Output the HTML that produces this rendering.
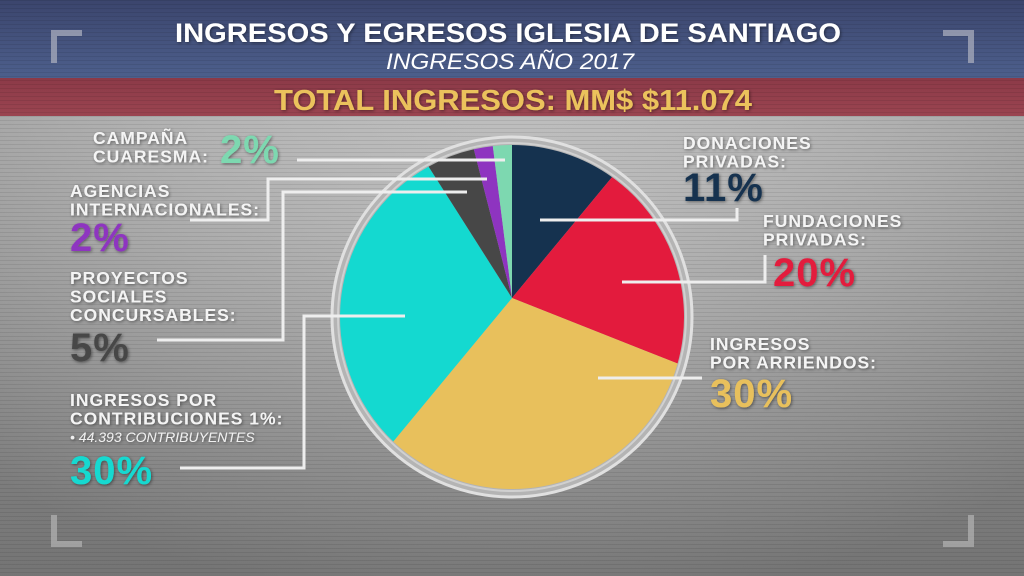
<!DOCTYPE html>
<html><head><meta charset="utf-8"><style>
html,body{margin:0;padding:0;width:1024px;height:576px;overflow:hidden;background:#aaa}
svg{display:block}
text{font-family:"Liberation Sans",sans-serif;font-weight:bold}
</style></head><body>
<svg id="chart" width="1024" height="576" viewBox="0 0 1024 576" xmlns="http://www.w3.org/2000/svg">
<defs>
<linearGradient id="bg" x1="0" y1="0" x2="0" y2="1">
<stop offset="0" stop-color="#c6c6c6"/><stop offset="0.5" stop-color="#acacac"/><stop offset="1" stop-color="#8e8e8e"/>
</linearGradient>
<radialGradient id="vig" cx="0.5" cy="0.35" r="0.7">
<stop offset="0" stop-color="#fff" stop-opacity="0.1"/><stop offset="1" stop-color="#000" stop-opacity="0.18"/>
</radialGradient>
<linearGradient id="blue" x1="0" y1="0" x2="0" y2="1"><stop offset="0" stop-color="#3b456d"/><stop offset="1" stop-color="#4d5f8c"/></linearGradient>
<linearGradient id="red" x1="0" y1="0" x2="0" y2="1"><stop offset="0" stop-color="#8c3a48"/><stop offset="1" stop-color="#9a4450"/></linearGradient>
<pattern id="scan" width="4" height="4" patternUnits="userSpaceOnUse"><rect width="4" height="1" fill="#000" opacity="0.08"/></pattern>
<filter id="sh"><feDropShadow dx="1" dy="1" stdDeviation="1.5" flood-color="#000" flood-opacity="0.45"/></filter>
</defs>
<rect width="1024" height="576" fill="url(#bg)"/>
<rect width="1024" height="576" fill="url(#vig)"/>
<rect width="1024" height="78" fill="url(#blue)"/>
<rect y="78" width="1024" height="38" fill="url(#red)"/>
<rect width="1024" height="576" fill="url(#scan)"/>
<g fill="#a9adbd" opacity="0.75">
<rect x="51" y="30" width="31" height="6"/><rect x="51" y="30" width="6" height="33"/>
<rect x="943" y="30" width="31" height="6"/><rect x="968" y="30" width="6" height="33"/>
<rect x="51" y="515" width="6" height="32" fill="#b0b0b0"/><rect x="51" y="541" width="31" height="6" fill="#b0b0b0"/>
<rect x="968" y="515" width="6" height="32" fill="#b0b0b0"/><rect x="943" y="541" width="31" height="6" fill="#b0b0b0"/>
</g>
<text x="508" y="42" text-anchor="middle" font-size="27" fill="#fff" textLength="666" lengthAdjust="spacingAndGlyphs" filter="url(#sh)">INGRESOS Y EGRESOS IGLESIA DE SANTIAGO</text>
<text x="510" y="69" text-anchor="middle" font-size="22" font-style="italic" fill="#fff" style="font-weight:normal" textLength="248" lengthAdjust="spacingAndGlyphs">INGRESOS AÑO 2017</text>
<text x="513" y="110" text-anchor="middle" font-size="29" fill="#ebc25c" textLength="478" lengthAdjust="spacingAndGlyphs" filter="url(#sh)">TOTAL INGRESOS: MM$ $11.074</text>

<circle cx="512" cy="317" r="180" fill="#b4b4b4" stroke="#e0e0e0" stroke-width="3"/>
<circle cx="512" cy="317" r="174" fill="none" stroke="#d0d0d0" stroke-width="2"/>
<g id="pie"></g>
<g id="leaders" stroke="#eeeeee" stroke-width="3" fill="none">
<polyline points="540,220 737,220 737,208"/>
<polyline points="622,282 765,282 765,255"/>
<polyline points="598,378 702,378"/>
<polyline points="505,160 297,160"/>
<polyline points="487,179 268,179 268,220 190,220"/>
<polyline points="467,192 283,192 283,340 157,340"/>
<polyline points="405,316 304,316 304,468 180,468"/>
</g>
<g id="labels" filter="url(#sh)"></g>
</svg>
<script>
var categories=["DONACIONES PRIVADAS","FUNDACIONES PRIVADAS","INGRESOS POR ARRIENDOS","INGRESOS POR CONTRIBUCIONES 1%","PROYECTOS SOCIALES CONCURSABLES","AGENCIAS INTERNACIONALES","CAMPAÑA CUARESMA"];
var values=[11,20,30,30,5,2,2];
var pctLabels=["11%","20%","30%","30%","5%","2%","2%"];
var colors=["#15324f","#e31b3d","#e8c05c","#14d9d0","#474747","#8e34c0","#7dd8b0"];
var NS="http://www.w3.org/2000/svg";
var ax=512,ay=298,cx=512,cy=317,R=172;
function edge(th){var dx=Math.sin(th),dy=-Math.cos(th);var ox=ax-cx,oy=ay-cy;var b=ox*dx+oy*dy,c=ox*ox+oy*oy-R*R;var t=-b+Math.sqrt(b*b-c);return [ax+t*dx,ay+t*dy];}
function cang(p){return Math.atan2(p[0]-cx,-(p[1]-cy));}
var total=values.reduce(function(a,b){return a+b},0);
var acc=0,pie=document.getElementById('pie');
values.forEach(function(v,i){
 var a0=acc/total*2*Math.PI;acc+=v;var a1=acc/total*2*Math.PI;
 var p0=edge(a0),p1=edge(a1);
 var d=cang(p1)-cang(p0);while(d<0)d+=2*Math.PI;if(i===values.length-1&&d<1e-6)d=2*Math.PI;
 var large=d>Math.PI?1:0;
 var path=document.createElementNS(NS,'path');
 path.setAttribute('d','M'+ax+','+ay+'L'+p0[0].toFixed(2)+','+p0[1].toFixed(2)+'A'+R+','+R+' 0 '+large+' 1 '+p1[0].toFixed(2)+','+p1[1].toFixed(2)+'Z');
 path.setAttribute('fill',colors[i]);
 
 
 pie.appendChild(path);
});
var labelLines=[["DONACIONES","PRIVADAS:"],["FUNDACIONES","PRIVADAS:"],["INGRESOS","POR ARRIENDOS:"],["INGRESOS POR","CONTRIBUCIONES 1%:"],["PROYECTOS","SOCIALES","CONCURSABLES:"],["AGENCIAS","INTERNACIONALES:"],["CAMPAÑA","CUARESMA:"]];
var lp=[[683,149],[763,227],[710,350],[70,406],[70,284],[70,197],[93,144]];
var pp=[[683,201],[773,286],[710,407],[70,484],[70,361],[70,251],[220,163]];
var g=document.getElementById('labels');
function txt(x,y,s,size,fill,extra){var t=document.createElementNS(NS,'text');t.setAttribute('x',x);t.setAttribute('y',y);t.setAttribute('font-size',size);t.setAttribute('fill',fill);t.textContent=s;if(extra)for(var k in extra)t.setAttribute(k,extra[k]);g.appendChild(t);return t;}
labelLines.forEach(function(lines,i){
 lines.forEach(function(l,j){
  var t=txt(lp[i][0],lp[i][1]+j*18.5,l,17.5,"#f4f4f4",{"letter-spacing":"1"});
  
  
 });
 var p=txt(pp[i][0],pp[i][1],pctLabels[i],40,colors[i],{"letter-spacing":"1"});
 
 
});
var n=txt(70,442,"• 44.393 CONTRIBUYENTES",14,"#f0f0f0",{"font-style":"italic","style":"font-weight:normal"});


</script>
</body></html>
